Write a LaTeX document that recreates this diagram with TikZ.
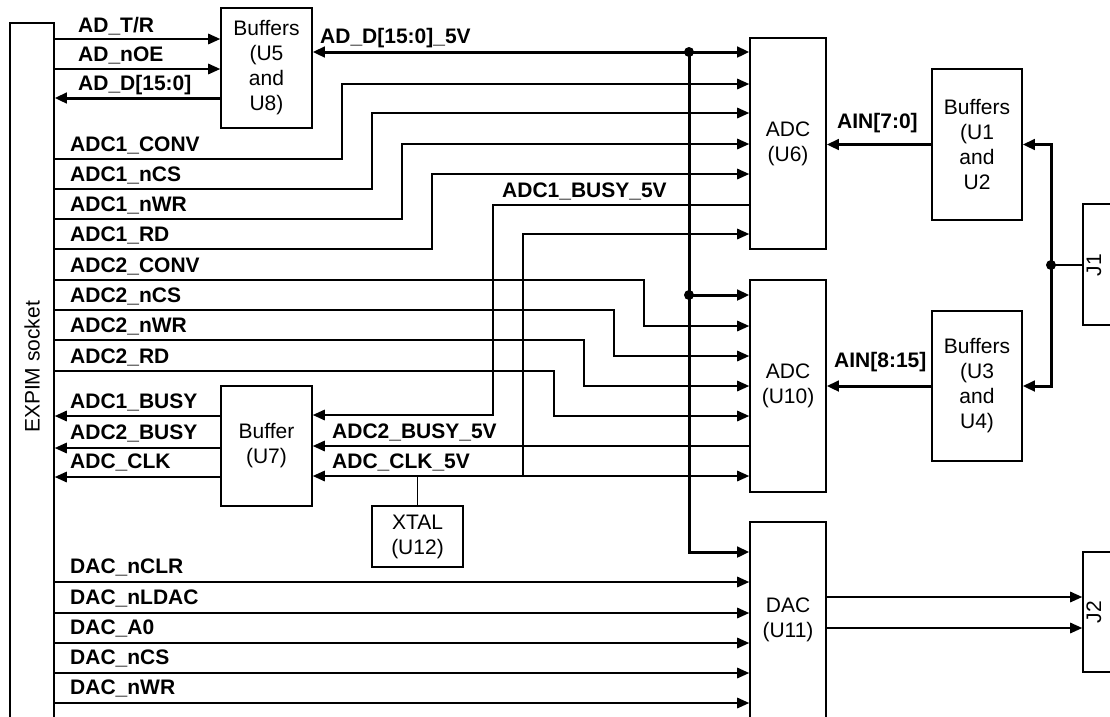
\documentclass[tikz,border=0pt]{standalone}
\usepackage{fontspec}
\setmainfont{Liberation Sans}
\usetikzlibrary{arrows.meta,positioning}

\begin{document}
\begin{tikzpicture}[
        x=1pt, y=-1pt,
        every node/.style={font=\fontsize{21}{25}\selectfont},
        box/.style={draw, line width=1.6pt, align=center, inner sep=0pt},
        lbl/.style={anchor=base west, inner sep=0pt, font=\bfseries\fontsize{21}{25}\selectfont},
        sig/.style={line width=1.6pt},
        bus/.style={line width=3pt},
        tip/.style={-{Triangle[length=12pt,width=10.5pt]}},
        dtip/.style={{Triangle[length=12pt,width=10.5pt]}-{Triangle[length=12pt,width=10.5pt]}}
    ]
    \useasboundingbox (0,0) rectangle (1110,716);
    \clip (0,0) rectangle (1110,716);

    % Socket
    \node[box, minimum width=44, minimum height=740] (socket) at (32,393) {};
    \node[rotate=90] (socketlbl) at (32,367) {EXPIM socket};

    % Buffers and converters
    \node[box, minimum width=91, minimum height=120] (bufA) at (266.5,68) {Buffers\\(U5\\and\\U8)};
    \node[box, minimum width=91, minimum height=120] (bufB) at (266.5,446) {Buffer\\(U7)};
    \node[box, minimum width=91, minimum height=61] (xtal) at (417.5,536.5) {XTAL\\(U12)};
    \node[box, minimum width=76, minimum height=211] (adcA) at (788,143.5) {ADC\\(U6)};
    \node[box, minimum width=76, minimum height=212] (adcB) at (788,386) {ADC\\(U10)};
    \node[box, minimum width=76, minimum height=196] (dac) at (788,620) {DAC\\(U11)};
    \node[box, minimum width=90, minimum height=151] (bufC) at (977,144.5) {Buffers\\(U1\\and\\U2};
    \node[box, minimum width=90, minimum height=150] (bufD) at (977,386) {Buffers\\(U3\\and\\U4)};

    % Connectors
    \node[box, minimum width=57, minimum height=121] (jA) at (1111.5,264.5) {};
    \node[rotate=90] (jAlbl) at (1094,265) {J1};
    \node[box, minimum width=57, minimum height=120] (jB) at (1111.5,612) {};
    \node[rotate=90] (jBlbl) at (1094,612) {J2};

    % Data bus buffer
    \draw[sig,tip] (socket.east |- 0,39) -- (bufA.west |- 0,39);
    \draw[sig,tip] (socket.east |- 0,69) -- (bufA.west |- 0,69);
    \draw[bus,tip] (bufA.west |- 0,98) -- (socket.east |- 0,98);
    \node[lbl] (lTR) at (78,32) {AD\_T/R};
    \node[lbl] (lOE) at (78,61) {AD\_nOE};
    \node[lbl] (lD) at (78,90) {AD\_D[15:0]};

    % 5V data bus
    \coordinate (dotA) at (689,52);
    \coordinate (dotB) at (689,295);
    \draw[bus,dtip] (bufA.east |- 0,52) -- (adcA.west |- 0,52);
    \draw[bus,tip] (dotA) |- (dac.west |- 0,552);
    \draw[bus,tip] (dotB) -- (adcB.west |- 0,295);
    \fill (dotA) circle (5);
    \fill (dotB) circle (5);
    \node[lbl] (lD5) at (320,43) {AD\_D[15:0]\_5V};

    % ADC1 control lines
    \foreach \ya/\xb/\yb in {159/342/84, 189/372/113, 219/402/144, 249/432/174}
        \draw[sig,tip] (socket.east |- 0,\ya) -| (\xb,\yb) -- (adcA.west |- 0,\yb);
    \foreach \n/\y/\t in {lc1/151/ADC1\_CONV, lcs1/181/ADC1\_nCS, lwr1/211/ADC1\_nWR, lrd1/241/ADC1\_RD}
        \node[lbl] (\n) at (70,\y) {\t};

    % ADC2 control lines
    \foreach \ya/\xb/\yb in {280/644/326, 310/614/356, 340/584/386, 371/554/416}
        \draw[sig,tip] (socket.east |- 0,\ya) -| (\xb,\yb) -- (adcB.west |- 0,\yb);
    \foreach \n/\y/\t in {lc2/272/ADC2\_CONV, lcs2/302/ADC2\_nCS, lwr2/332/ADC2\_nWR, lrd2/363/ADC2\_RD}
        \node[lbl] (\n) at (70,\y) {\t};

    % Busy and clock
    \coordinate (clkA) at (523,476);
    \draw[sig,tip] (adcA.west |- 0,205) -| (493,415) -- (bufB.east |- 0,415);
    \draw[sig,tip] (adcB.west |- 0,446) -- (bufB.east |- 0,446);
    \draw[sig,dtip] (bufB.east |- 0,476) -- (adcB.west |- 0,476);
    \draw[sig,tip] (clkA) |- (adcA.west |- 0,234);
    \draw[sig] (xtal.north) -- (xtal.north |- 0,476);
    \node[lbl] (lb1) at (502,197) {ADC1\_BUSY\_5V};
    \node[lbl] (lb2) at (332,438) {ADC2\_BUSY\_5V};
    \node[lbl] (lck) at (332,468) {ADC\_CLK\_5V};

    \foreach \y in {416,448,477}
        \draw[sig,tip] (bufB.west |- 0,\y) -- (socket.east |- 0,\y);
    \foreach \n/\y/\t in {lbo1/408/ADC1\_BUSY, lbo2/439/ADC2\_BUSY, lcko/468/ADC\_CLK}
        \node[lbl] (\n) at (70,\y) {\t};

    % DAC lines
    \foreach \y in {582,613,643,673,703}
        \draw[sig,tip] (socket.east |- 0,\y) -- (dac.west |- 0,\y);
    \foreach \n/\y/\t in {ld1/573/DAC\_nCLR, ld2/604/DAC\_nLDAC, ld3/634/DAC\_A0, ld4/664/DAC\_nCS, ld5/694/DAC\_nWR}
        \node[lbl] (\n) at (70,\y) {\t};

    % Analog inputs
    \coordinate (dotC) at (1051,265);
    \draw[bus,tip] (bufC.west) -- (adcA.east |- bufC.west);
    \draw[bus,tip] (bufD.west) -- (adcB.east |- bufD.west);
    \draw[line width=2.2pt] (jA.west |- dotC) -- (dotC);
    \draw[bus,tip] (dotC) |- (bufC.east);
    \draw[bus,tip] (dotC) |- (bufD.east);
    \fill (dotC) circle (5);
    \node[lbl] (lain1) at (837,128) {AIN[7:0]};
    \node[lbl] (lain2) at (834,367) {AIN[8:15]};

    % Analog outputs
    \draw[sig,tip] (dac.east |- 0,597) -- (jB.west |- 0,597);
    \draw[sig,tip] (dac.east |- 0,628) -- (jB.west |- 0,628);

\end{tikzpicture}
\end{document}
